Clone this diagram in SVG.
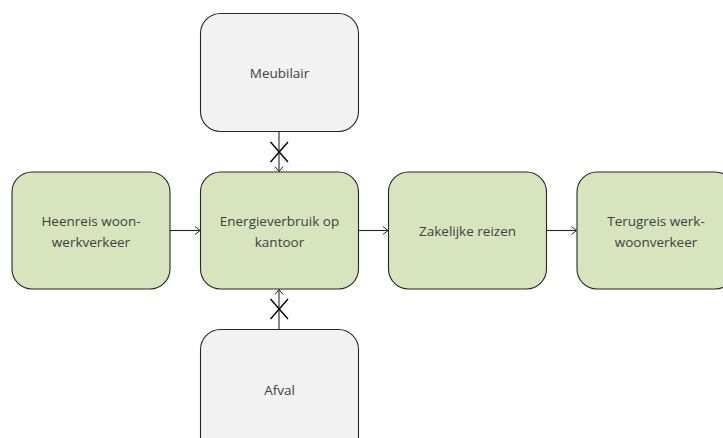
<svg xmlns="http://www.w3.org/2000/svg" width="723" height="438" viewBox="0 0 723 438">
<defs>
<style>
.n{stroke:#262626;stroke-width:1.1}
.g{fill:#d7e4bd}
.w{fill:#f2f2f2}
.t{font-family:"Open Sans","Noto Sans",sans-serif;font-size:13.5px;fill:#404040;text-anchor:middle;dominant-baseline:central}
.c{stroke:#262626;stroke-width:1.1;fill:none}
.x{stroke:#000;stroke-width:1.4;fill:none}
</style>
<marker id="a" markerWidth="10" markerHeight="10" refX="9" refY="5" orient="auto" markerUnits="userSpaceOnUse">
<path d="M4,1 L9,5 L4,9" fill="none" stroke="#262626" stroke-width="1"/>
</marker>
</defs>
<rect width="723" height="438" fill="#ffffff"/>
<g id="meubilair"><rect class="n w" x="200.5" y="13.5" width="158" height="118" rx="20"/><text class="t" x="279.5" y="73">Meubilair</text></g>
<g id="heenreis"><rect class="n g" x="12" y="172" width="158" height="117" rx="20"/><text class="t" x="91" y="221">Heenreis woon-</text><text class="t" x="91" y="241.5">werkverkeer</text></g>
<g id="energie"><rect class="n g" x="200.5" y="172" width="158" height="117" rx="20"/><text class="t" x="279.5" y="221">Energieverbruik op</text><text class="t" x="279.5" y="241.5">kantoor</text></g>
<g id="zakelijk"><rect class="n g" x="388.5" y="172" width="158" height="117" rx="20"/><text class="t" x="467.5" y="231">Zakelijke reizen</text></g>
<g id="terugreis"><rect class="n g" x="577" y="172" width="158" height="117" rx="20"/><text class="t" x="656" y="221">Terugreis werk-</text><text class="t" x="656" y="241.5">woonverkeer</text></g>
<g id="afval"><rect class="n w" x="200.5" y="329.5" width="158" height="130" rx="20"/><text class="t" x="279.5" y="390">Afval</text></g>
<g id="connectors">
<line class="c" x1="279" y1="132" x2="279" y2="171.5" marker-end="url(#a)"/>
<path class="x" d="M270.5,142 L288,162 M288,142 L270.5,162"/>
<line class="c" x1="279" y1="329" x2="279" y2="289.5" marker-end="url(#a)"/>
<path class="x" d="M270.5,299 L288,319 M288,299 L270.5,319"/>
<line class="c" x1="170" y1="230.5" x2="200" y2="230.5" marker-end="url(#a)"/>
<line class="c" x1="358.5" y1="230.5" x2="388" y2="230.5" marker-end="url(#a)"/>
<line class="c" x1="546.5" y1="230.5" x2="576.5" y2="230.5" marker-end="url(#a)"/>
</g>
</svg>
